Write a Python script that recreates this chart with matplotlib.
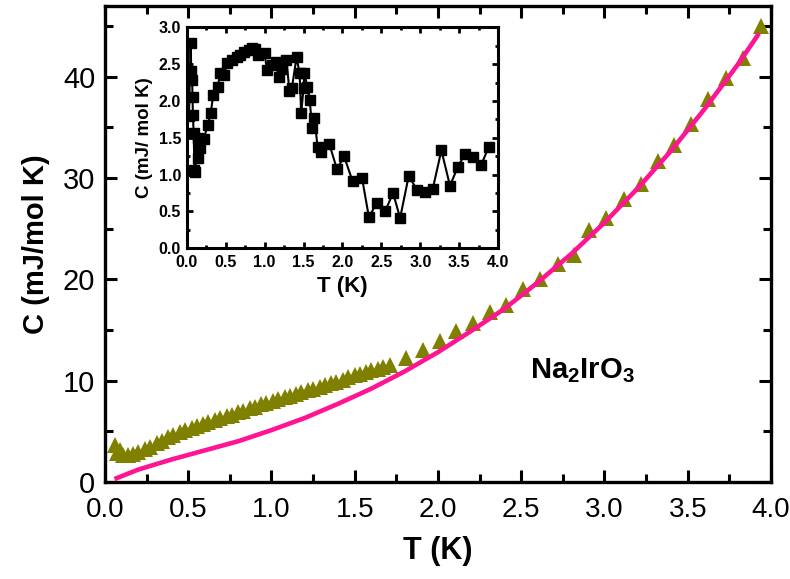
import numpy as np
import matplotlib
matplotlib.use('Agg')
import matplotlib.pyplot as plt
from matplotlib.ticker import MultipleLocator, FormatStrFormatter

'''Fonts'''
plt.rcParams['font.family'] = ['Liberation Sans', 'DejaVu Sans']
plt.rcParams['mathtext.fontset'] = 'custom'
plt.rcParams['mathtext.rm'] = 'Liberation Sans'
plt.rcParams['mathtext.bf'] = 'Liberation Sans:bold'

'''Main panel data: measured C(T) (triangles)'''
T_meas = [0.06, 0.07, 0.09, 0.11, 0.14, 0.17, 0.20, 0.24, 0.27, 0.31, 0.34, 0.38,
          0.41, 0.45, 0.48, 0.52, 0.55, 0.59, 0.62, 0.66, 0.69, 0.73, 0.76, 0.80,
          0.83, 0.87, 0.90, 0.94, 0.97, 1.01, 1.04, 1.08, 1.11, 1.15, 1.18, 1.22,
          1.25, 1.29, 1.32, 1.36, 1.39, 1.43, 1.46, 1.50, 1.53, 1.57, 1.60, 1.64,
          1.67, 1.71,
          1.81, 1.91, 2.01, 2.11, 2.21, 2.31, 2.41, 2.51, 2.61, 2.72, 2.82, 2.91,
          3.01, 3.12, 3.22, 3.32, 3.42, 3.52, 3.62, 3.73, 3.83, 3.94]
C_meas = [3.6, 2.8, 3.1, 2.6, 2.6, 2.7, 2.9, 3.2, 3.4, 3.8, 4.0, 4.4,
          4.6, 4.9, 5.1, 5.3, 5.5, 5.7, 5.9, 6.1, 6.3, 6.5, 6.6, 6.9,
          7.0, 7.3, 7.4, 7.7, 7.8, 8.0, 8.2, 8.4, 8.5, 8.7, 8.9, 9.1,
          9.2, 9.4, 9.6, 9.8, 9.9, 10.1, 10.3, 10.5, 10.6, 10.8, 11.0, 11.1,
          11.3, 11.5,
          12.2, 13.0, 13.9, 14.9, 15.7, 16.8, 17.5, 19.0, 20.0, 21.5, 22.4, 24.9,
          26.1, 27.9, 29.4, 31.7, 33.3, 35.3, 37.8, 39.9, 41.9, 45.0]

'''Main panel data: fit curve (pink line)'''
T_fit = [0.07, 0.2, 0.4, 0.6, 0.8, 1.0, 1.2, 1.4, 1.6, 1.8, 2.0,
         2.2, 2.4, 2.6, 2.8, 3.0, 3.2, 3.4, 3.6, 3.8, 3.92]
C_fit = [0.35, 1.2, 2.2, 3.1, 4.0, 5.1, 6.3, 7.7, 9.2, 10.9, 12.8,
         14.9, 17.1, 19.7, 22.5, 25.6, 29.0, 32.7, 36.8, 41.2, 44.1]

'''Inset data: residual C(T) (squares)'''
T_ins = [0.03, 0.05, 0.06, 0.07, 0.075, 0.08, 0.09, 0.10, 0.11, 0.14, 0.15,
         0.17, 0.22, 0.27, 0.31, 0.34, 0.40, 0.43, 0.48, 0.52, 0.58, 0.64,
         0.69, 0.73, 0.80, 0.84, 0.88, 0.92, 1.00, 1.03, 1.10, 1.15, 1.18,
         1.23, 1.28, 1.32, 1.35, 1.41, 1.45, 1.47, 1.50, 1.51, 1.55, 1.58,
         1.61, 1.64, 1.68, 1.73, 1.83, 1.93, 2.02, 2.13, 2.25, 2.34, 2.44,
         2.55, 2.65, 2.74, 2.85, 2.96, 3.06, 3.16, 3.27, 3.38, 3.48, 3.57,
         3.68, 3.78, 3.88]
C_ins = [1.8, 2.78, 2.4, 2.28, 2.06, 1.81, 1.56, 1.06, 1.04, 1.5, 1.22,
         1.36, 1.49, 1.67, 1.84, 2.08, 2.19, 2.38, 2.35, 2.51, 2.56, 2.6,
         2.62, 2.66, 2.69, 2.72, 2.70, 2.62, 2.65, 2.42, 2.49, 2.53, 2.33,
         2.44, 2.56, 2.13, 2.17, 2.59, 2.38, 1.83, 2.17, 2.38, 2.19, 2.01,
         1.63, 1.77, 1.38, 1.31, 1.42, 1.07, 1.25, 0.91, 0.96, 0.42, 0.62,
         0.51, 0.75, 0.41, 0.98, 0.79, 0.77, 0.81, 1.33, 0.85, 1.10, 1.28,
         1.24, 1.13, 1.38]

'''Figure and main axes'''
fig = plt.figure(figsize=(7.9, 5.79), dpi=100)
ax = fig.add_axes([0.1329, 0.168, 0.8430, 0.8216])

ax.plot(T_meas, C_meas, linestyle='none', marker='^', markersize=11.5,
        color='#808000', markeredgewidth=0)
ax.plot(T_fit, C_fit, color='#FF1493', linewidth=3.3)

ax.text(2.55, 11.0, r'$\mathbf{Na_2IrO_3}$', fontsize=21, ha='left', va='center')

ax.set_xlim(0, 4.0)
ax.set_ylim(0, 47)
ax.xaxis.set_major_locator(MultipleLocator(0.5))
ax.xaxis.set_minor_locator(MultipleLocator(0.25))
ax.xaxis.set_major_formatter(FormatStrFormatter('%.1f'))
ax.yaxis.set_major_locator(MultipleLocator(10))
ax.yaxis.set_minor_locator(MultipleLocator(5))
ax.tick_params(which='both', direction='in', top=True, right=True, width=2.2)
ax.tick_params(which='major', length=8.5)
ax.tick_params(which='minor', length=5.5)
ax.tick_params(axis='x', labelsize=20, pad=11)
ax.tick_params(axis='y', labelsize=21, pad=7)
for sp in ax.spines.values():
    sp.set_linewidth(2.4)

ax.set_xlabel('T (K)', fontsize=22, fontweight='bold', labelpad=9)
ax.set_ylabel('C (mJ/mol K)', fontsize=21, fontweight='bold', labelpad=9)

'''Inset axes'''
axi = fig.add_axes([0.2363, 0.5712, 0.3944, 0.3817])
axi.plot(T_ins, C_ins, color='black', linewidth=1.5, marker='s', markersize=6.5)
axi.set_xlim(0, 4.0)
axi.set_ylim(0, 3.0)
axi.xaxis.set_major_locator(MultipleLocator(0.5))
axi.xaxis.set_minor_locator(MultipleLocator(0.25))
axi.xaxis.set_major_formatter(FormatStrFormatter('%.1f'))
axi.yaxis.set_major_locator(MultipleLocator(0.5))
axi.yaxis.set_minor_locator(MultipleLocator(0.25))
axi.yaxis.set_major_formatter(FormatStrFormatter('%.1f'))
axi.tick_params(which='both', direction='in', top=True, right=True, width=2.0,
                labelsize=11.5)
axi.tick_params(axis='x', pad=5)
axi.tick_params(axis='y', pad=4)
axi.tick_params(which='major', length=4.5)
axi.tick_params(which='minor', length=2.5)
for lab in axi.get_xticklabels() + axi.get_yticklabels():
    lab.set_fontweight('bold')
for sp in axi.spines.values():
    sp.set_linewidth(2.2)
axi.set_xlabel('T (K)', fontsize=16, fontweight='bold', labelpad=4)
axi.set_ylabel('C (mJ/ mol K)', fontsize=13.5, fontweight='bold', labelpad=4)

fig.savefig('out.png', dpi=100)
